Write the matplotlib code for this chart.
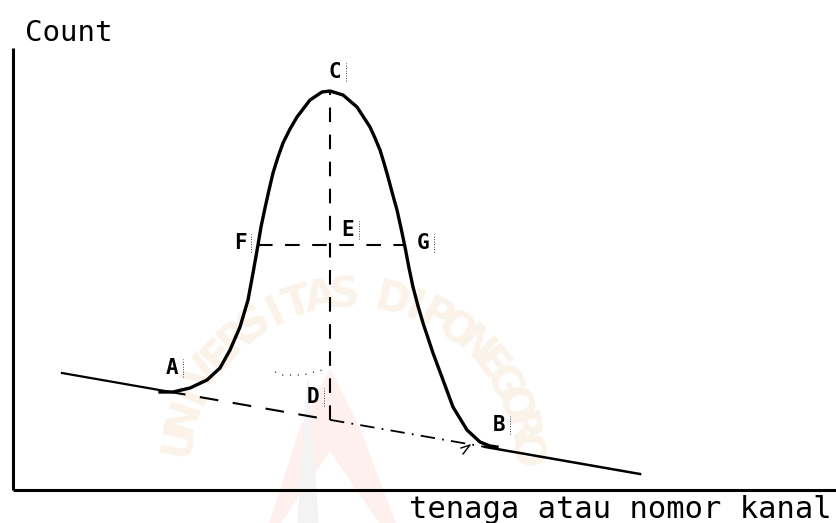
import numpy as np
import matplotlib
matplotlib.use("Agg")
import matplotlib.pyplot as plt

# titik-titik kurva puncak (nomor kanal, cacah)
kanal = [160, 173, 190, 207, 220, 230, 240, 248, 253, 258, 261, 265, 269, 273,
         278, 283, 290, 297, 310, 322, 330, 343, 357, 370, 375, 380, 384, 388,
         392, 397, 401, 405, 409, 413, 418, 423, 428, 433, 443, 453, 467, 480,
         490, 497]
cacah = [98, 98, 102, 110, 122, 140, 163, 190, 217, 245, 263, 282, 300, 317,
         333, 347, 361, 373, 390, 398, 399, 395, 383, 363, 352, 340, 327, 313,
         298, 280, 262, 243, 222, 203, 184, 167, 152, 137, 110, 83, 60, 48,
         44, 43]

# garis latar (background) di bawah puncak
latar_x = [62, 640]
latar_y = [117, 16]

# titik-titik penting
titik_A = (167, 98.6)
titik_B = (485, 43.1)
titik_D = (330, 70)
titik_C = (330, 399)
titik_F = (258, 245)
titik_G = (405, 245)

# label huruf dan posisinya
huruf = ["C", "E", "F", "G", "A", "D", "B"]
huruf_x = [335, 348, 240, 423, 172, 313, 499]
huruf_y = [418, 260, 247, 247, 122, 93, 65]

fig = plt.figure(figsize=(8.36, 5.23), dpi=100)
ax = fig.add_axes([0, 0, 1, 1])
ax.set_xlim(0, 836)
ax.set_ylim(-33, 490)

# watermark samar di belakang
teks_wm = "UNIVERSITAS DIPONEGORO"
sudut = np.linspace(170, 6, len(teks_wm))
for ch, a in zip(teks_wm, sudut):
    r = np.radians(a)
    ax.text(350 + 175 * np.cos(r), 20 + 175 * np.sin(r), ch, fontsize=30,
            fontweight="bold", color="#fbf3e9", rotation=a - 90,
            ha="center", va="center", zorder=0)
ax.fill([270, 300, 330, 360, 395, 380, 330, 280],
        [-33, 60, 120, 60, -33, -33, 40, -33], color="#fdf0ee", zorder=0)
ax.fill([298, 308, 318], [-33, 110, -33], color="#f3f3f3", zorder=0)

# sumbu
ax.plot([13, 13], [0, 442], color="black", lw=2.2, solid_capstyle="butt")
ax.plot([13, 836], [0, 0], color="black", lw=2.2, solid_capstyle="butt")

# kurva puncak
ax.plot(kanal, cacah, color="black", lw=2.4, solid_joinstyle="round")

# garis latar: utuh di luar puncak, putus-putus di dalam
m = (latar_y[1] - latar_y[0]) / (latar_x[1] - latar_x[0])
def latar(x):
    return latar_y[0] + m * (x - latar_x[0])

ax.plot([latar_x[0], titik_A[0]], [latar_y[0], latar(titik_A[0])],
        color="black", lw=1.6)
ax.plot([titik_A[0], titik_D[0]], [latar(titik_A[0]), latar(titik_D[0])],
        color="black", lw=1.5, ls=(0, (9, 7)))
ax.plot([titik_D[0], titik_B[0]], [latar(titik_D[0]), latar(titik_B[0])],
        color="black", lw=1.3, ls=(0, (8, 4, 1, 4)))
ax.plot([titik_B[0], latar_x[1]], [latar(titik_B[0]), latar_y[1]],
        color="black", lw=1.8)
ax.plot([461, 470, 463], [42, 45, 36], color="black", lw=1.0)

# garis tinggi puncak C-D dan lebar setengah tinggi F-G
ax.plot([titik_C[0], titik_C[0]], [latar(titik_C[0]), titik_C[1]],
        color="black", lw=1.5, ls=(0, (7, 6)))
ax.plot([titik_F[0], titik_G[0]], [titik_F[1], titik_G[1]],
        color="black", lw=1.5, ls=(0, (7, 6)))

# bekas titik-titik kecil di dekat D
ax.plot([275, 282, 303, 322], [118, 115, 115, 120], color="black",
        lw=0.8, ls=(0, (1, 6)))

for h, x, y in zip(huruf, huruf_x, huruf_y):
    ax.text(x, y, h, fontsize=15, family="DejaVu Sans Mono",
            fontweight="bold", ha="center", va="center")
    ax.plot([x + 11, x + 11], [y - 9, y + 9], color="black", lw=0.6,
            ls=(0, (1, 2)))

ax.text(25, 457, "Count", fontsize=21, family="DejaVu Sans Mono",
        ha="left", va="center")
ax.text(832, -20, "tenaga atau nomor kanal", fontsize=22,
        family="DejaVu Sans Mono", ha="right", va="center")

ax.axis("off")
fig.savefig("out.png", dpi=100)
